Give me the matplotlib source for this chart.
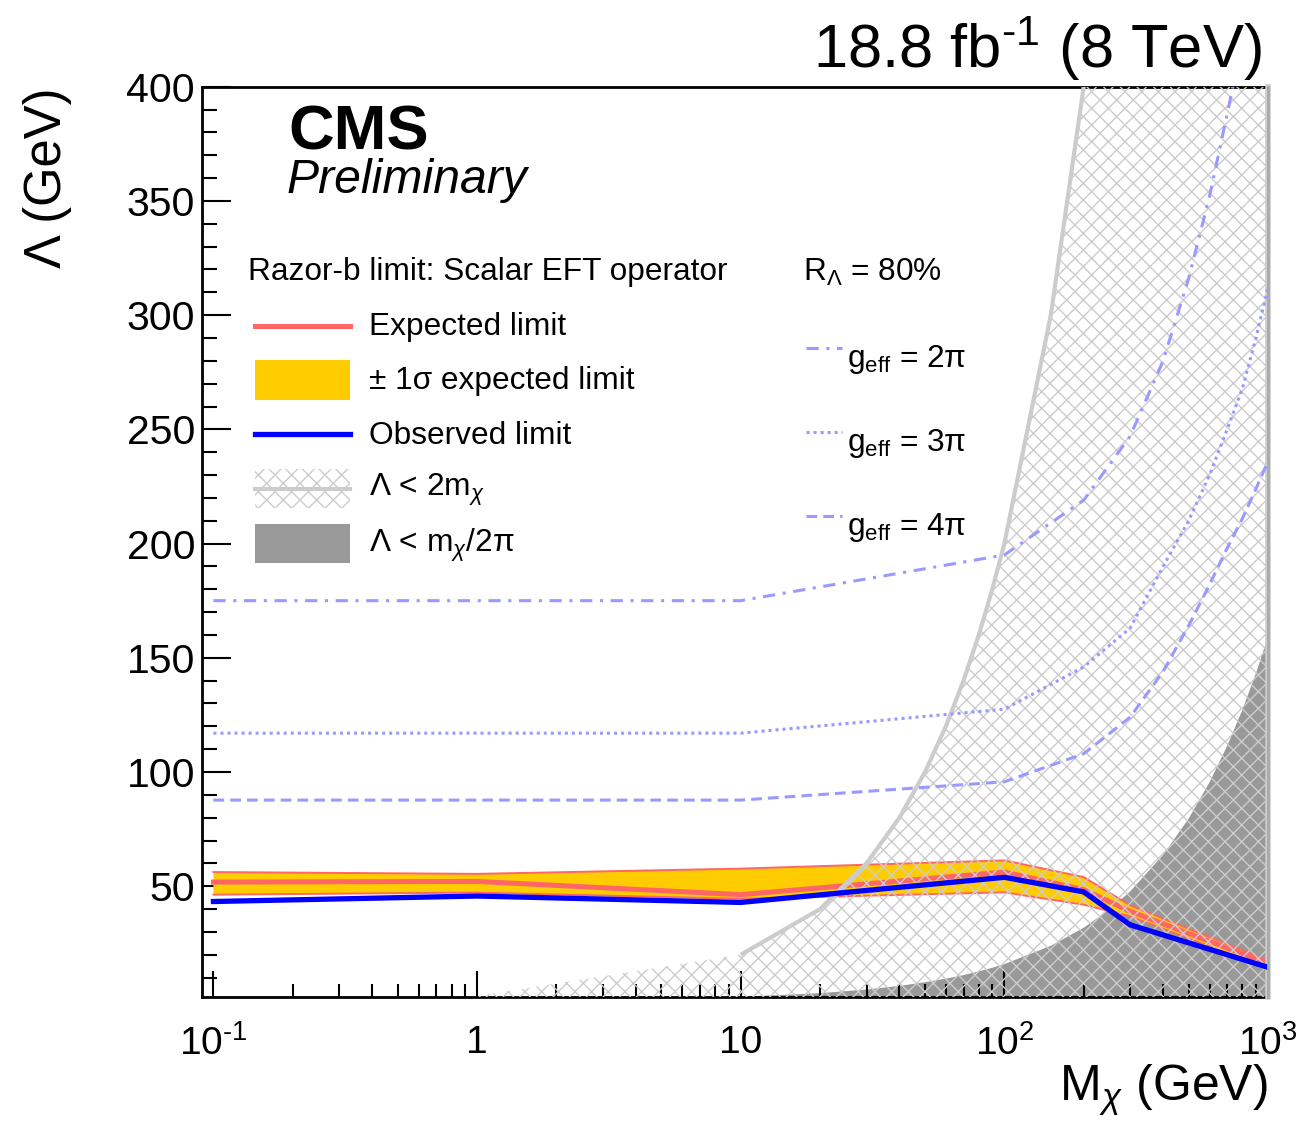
import matplotlib
matplotlib.use("Agg")
import matplotlib.pyplot as plt
from matplotlib.patches import Rectangle
from matplotlib.lines import Line2D
from matplotlib.ticker import FixedLocator, FixedFormatter, NullFormatter

plt.rcParams['font.family'] = ['Liberation Sans', 'DejaVu Sans']
plt.rcParams['mathtext.fontset'] = 'custom'
plt.rcParams['mathtext.rm'] = 'Liberation Sans'
plt.rcParams['mathtext.it'] = 'Liberation Sans:italic'
plt.rcParams['mathtext.bf'] = 'Liberation Sans:bold'
plt.rcParams['hatch.linewidth'] = 1.0

# ── limit scan (Scalar EFT, Razor-b) ───────────────────────────────────
m_chi    = [0.1, 1, 10, 100, 200, 300, 1000]
lam_exp  = [51.8, 52.1, 46.3, 56.2, 48.5, 39.0, 16.2]
lam_up   = [56.2, 55.4, 57.7, 61.3, 54.0, 41.6, 17.5]
lam_down = [46.3, 47.2, 44.5, 47.3, 41.9, 36.8, 14.0]
lam_obs  = [43.3, 45.7, 42.9, 53.9, 47.5, 33.1, 14.5]

# ── truncation curves, R_Lambda = 80% ─────────────────────────────────
m_geff    = [0.1, 1, 10, 100, 200, 300, 400, 500, 600, 700, 800, 900, 1000]
lam_g2pi  = [175, 175, 175, 195, 219, 247, 280, 316, 352, 388, 420, 450, 480]
lam_g3pi  = [117, 117, 117, 127.5, 146, 163, 190, 210, 230, 250, 268, 290, 312]
lam_g4pi  = [87.7, 87.7, 87.7, 95.7, 108, 124, 144, 164, 182, 198, 211, 224, 236]

# ── validity regions ──────────────────────────────────────────────────
m_2m    = [1, 10, 20, 30, 40, 50, 60, 70, 80, 90, 100, 150, 200, 1000]
lam_2m  = [2, 20, 40, 60, 80, 100, 120, 140, 160, 180, 200, 300, 400, 400]
m_unit   = [10, 20, 30, 40, 50, 60, 70, 80, 90, 100, 150, 200, 250, 300,
            400, 500, 600, 700, 800, 900, 1000]
lam_unit = [1.59, 3.18, 4.77, 6.37, 7.96, 9.55, 11.1, 12.7, 14.3, 15.9, 23.9,
            31.8, 39.8, 47.7, 63.7, 79.6, 95.5, 111.4, 127.3, 143.2, 159.2]

XMIN, XMAX = 0.0905, 1000
YMIN, YMAX = 1.5, 400

W_PX, H_PX = 1313, 1137
RED, GOLD, BLUE = '#ff6666', '#ffcc00', '#0000ff'
LILAC, LIGHT, DARK = '#9999ff', '#cccccc', '#999999'
HY = '\u2010'   # short hyphen for exponents


def fx(px):
    return px / W_PX


def fy(py):
    return 1 - py / H_PX


fig = plt.figure(figsize=(W_PX / 100, H_PX / 100), dpi=100)
ax = fig.add_axes([fx(202), fy(997), fx(1268) - fx(202), fy(86.7) - fy(997)])
ax.set_xscale('log')
ax.set_xlim(XMIN, XMAX)
ax.set_ylim(YMIN, YMAX)

# dark region  Lambda < m/2pi
ax.fill_between(m_unit, YMIN, lam_unit, facecolor=DARK, edgecolor='none',
                linewidth=0, zorder=1)

# expected +-1 sigma band with red borders
ax.fill_between(m_chi, lam_down, lam_up, facecolor=GOLD, edgecolor='none',
                linewidth=0, zorder=2)
ax.plot(m_chi, lam_up, color=RED, lw=1.4, zorder=2.5)
ax.plot(m_chi, lam_down, color=RED, lw=1.4, zorder=2.5)
ax.plot(m_chi, lam_exp, color=RED, lw=3.6, zorder=3, solid_joinstyle='miter')

# hatched region  Lambda < 2 m
ax.fill_between(m_2m, 0, lam_2m, facecolor='none', edgecolor=LIGHT,
                hatch='xx', linewidth=0, zorder=4)
ax.plot(m_2m[1:-1], lam_2m[1:-1], color=LIGHT, lw=3, zorder=4.2,
        solid_capstyle='butt')
ax.plot([XMAX, XMAX], [YMIN, YMAX], color=LIGHT, lw=4, zorder=4.2,
        clip_on=False)

# observed limit
ax.plot(m_chi, lam_obs, color=BLUE, lw=3.8, zorder=5, solid_joinstyle='miter')

# g_eff curves
ax.plot(m_geff, lam_g2pi, color=LILAC, lw=2.2, ls=(0, (4, 2.5, 1, 2.5)), zorder=5)
ax.plot(m_geff, lam_g3pi, color=LILAC, lw=2.2, ls=(0, (1, 1.3)), zorder=5)
ax.plot(m_geff, lam_g4pi, color=LILAC, lw=2.2, ls=(0, (3.5, 2)), zorder=5)

# ── axes styling (ROOT-like frame) ────────────────────────────────────
for side in ['left', 'bottom', 'top', 'right']:
    ax.spines[side].set_linewidth(2)
ax.spines['right'].set_color('#aaaaaa')
ax.spines['right'].set_zorder(6)

xmajor = [0.1, 1, 10, 100, 1000]
xminor = [k * 10.0 ** e for e in range(-1, 3) for k in range(2, 10)]
ax.xaxis.set_major_locator(FixedLocator(xmajor))
ax.xaxis.set_major_formatter(FixedFormatter(
    ['$10^{' + HY + '1}$', '1', '10', r'$10^{2}$', r'$10^{3}$']))
ax.xaxis.set_minor_locator(FixedLocator(xminor))
ax.xaxis.set_minor_formatter(NullFormatter())

ax.yaxis.set_major_locator(FixedLocator([50, 100, 150, 200, 250, 300, 350, 400]))
ax.yaxis.set_minor_locator(FixedLocator(list(range(10, 400, 10))))

ax.tick_params(axis='both', which='both', direction='in', top=False,
               right=False, width=1.5)
ax.tick_params(axis='x', which='major', length=19, pad=20, labelsize=28)
ax.tick_params(axis='x', which='minor', length=9.5)
ax.tick_params(axis='y', which='major', length=21, pad=5, labelsize=29.5)
ax.tick_params(axis='y', which='minor', length=10.5)

fig.text(fx(48), fy(88), 'Λ (GeV)', rotation=90, ha='center', va='top',
         fontsize=36.5)
fig.text(fx(1268), fy(1090), r'M$_{\chi}$ (GeV)', ha='right', va='center',
         fontsize=36)

fig.text(fx(1262), fy(68), '18.8 fb$^{' + HY + '1}$ (8 TeV)', ha='right',
         va='baseline', fontsize=44.3)
fig.text(fx(288), fy(150), 'CMS', ha='left', va='baseline', fontsize=45.5,
         fontweight='bold')
fig.text(fx(287), fy(193), 'Preliminary', ha='left', va='baseline',
         fontsize=34.7, style='italic')

# ── legend, left block ────────────────────────────────────────────────
LEG = 22.8
fig.text(fx(248), fy(272), 'Razor-b limit: Scalar EFT operator', ha='left',
         va='center', fontsize=LEG)


def legend_line(y, color, lw, ls='-', x0=255, x1=350):
    fig.add_artist(Line2D([fx(x0), fx(x1)], [fy(y), fy(y)], color=color,
                          lw=lw, ls=ls, transform=fig.transFigure))


def legend_box(y0, y1, **kw):
    fig.add_artist(Rectangle((fx(255), fy(y1)), fx(350) - fx(255),
                             fy(y0) - fy(y1), transform=fig.transFigure, **kw))


legend_line(326, RED, 3.6)
fig.text(fx(369), fy(327), 'Expected limit', ha='left', va='center',
         fontsize=LEG)
legend_box(360, 400, facecolor=GOLD, edgecolor='none', lw=0)
fig.text(fx(369), fy(381), '± 1σ expected limit', ha='left', va='center',
         fontsize=LEG)
legend_line(434, BLUE, 3.8)
fig.text(fx(369), fy(436), 'Observed limit', ha='left', va='center',
         fontsize=LEG)
legend_box(469, 508, facecolor='none', edgecolor=LIGHT, hatch='xx', lw=0)
legend_line(489, LIGHT, 3)
fig.text(fx(369), fy(490), r'Λ < 2m$_{\chi}$', ha='left', va='center',
         fontsize=LEG)
legend_box(524, 563, facecolor=DARK, edgecolor='none', lw=0)
fig.text(fx(369), fy(545), r'Λ < m$_{\chi}$/2π', ha='left', va='center',
         fontsize=LEG)

# ── legend, right block ───────────────────────────────────────────────
fig.text(fx(803), fy(272), r'R$_{\Lambda}$ = 80%', ha='left', va='center',
         fontsize=LEG)
legend_line(348, LILAC, 2.2, (0, (4, 2.5, 1, 2.5)), 806, 842)
fig.text(fx(847), fy(360), r'g$_{\mathrm{eff}}$ = 2π', ha='left',
         va='center', fontsize=LEG)
legend_line(432, LILAC, 2.2, (0, (1, 1.3)), 806, 842)
fig.text(fx(847), fy(444), r'g$_{\mathrm{eff}}$ = 3π', ha='left',
         va='center', fontsize=LEG)
legend_line(516, LILAC, 2.2, (0, (3.5, 2)), 806, 842)
fig.text(fx(847), fy(528), r'g$_{\mathrm{eff}}$ = 4π', ha='left',
         va='center', fontsize=LEG)

fig.savefig('out.png', dpi=100)
